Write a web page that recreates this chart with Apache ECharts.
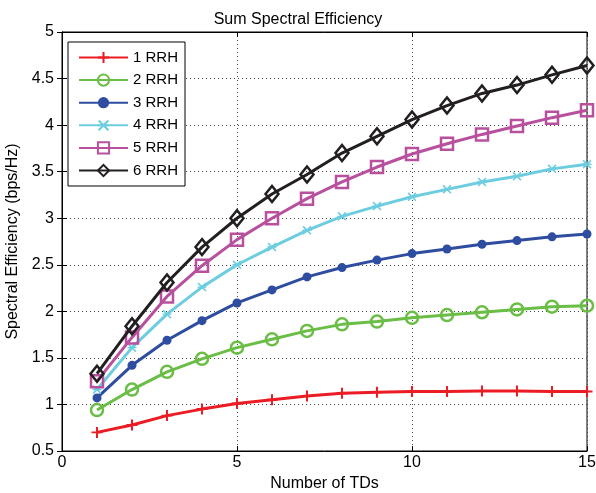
<!DOCTYPE html>
<html><head><meta charset="utf-8">
<script src="https://cdn.jsdelivr.net/npm/echarts@6/dist/echarts.min.js"></script>
<style>html,body{margin:0;padding:0;background:#fff}#c{width:596px;height:493px}</style>
</head><body><div id="c"></div>
<script>
const tds = [1,2,3,4,5,6,7,8,9,10,11,12,13,14,15];
const rrh1 = [0.70,0.78,0.88,0.95,1.01,1.05,1.09,1.12,1.13,1.14,1.14,1.145,1.145,1.14,1.14];
const rrh2 = [0.94,1.16,1.35,1.49,1.61,1.70,1.79,1.86,1.89,1.93,1.96,1.99,2.02,2.05,2.06];
const rrh3 = [1.07,1.42,1.69,1.90,2.09,2.23,2.37,2.47,2.55,2.62,2.67,2.72,2.76,2.80,2.83];
const rrh4 = [1.16,1.61,1.97,2.26,2.50,2.69,2.87,3.02,3.13,3.23,3.31,3.39,3.45,3.53,3.58];
const rrh5 = [1.25,1.72,2.16,2.49,2.77,3.00,3.21,3.39,3.55,3.69,3.80,3.90,3.99,4.08,4.16];
const rrh6 = [1.33,1.84,2.31,2.69,3.00,3.26,3.47,3.70,3.88,4.06,4.21,4.34,4.43,4.54,4.64];
const names = ['1 RRH','2 RRH','3 RRH','4 RRH','5 RRH','6 RRH'];
const yTicks = [0.5,1,1.5,2,2.5,3,3.5,4,4.5,5];
const xTicks = [0,5,10,15];

const colors = ['#ec1c24','#6abd45','#2e4da0','#6dcde0','#b8509e','#231f20'];
const plus = 'path://M0,4.1 L10,4.1 L10,5.9 L0,5.9 Z M4.1,0 L5.9,0 L5.9,10 L4.1,10 Z';
const cross = 'path://M0,1.3 L1.3,0 L5,3.7 L8.7,0 L10,1.3 L6.3,5 L10,8.7 L8.7,10 L5,6.3 L1.3,10 L0,8.7 L3.7,5 Z M0,4.2 L10,4.2 L10,5.8 L0,5.8 Z';
const sym = [plus,'circle','circle',cross,'rect','diamond'];
const symSize = [11,12,9,9,12,[13,16]];
const hollow = [false,true,false,false,true,true];
const data = [rrh1,rrh2,rrh3,rrh4,rrh5,rrh6];

const series = data.map((d,i)=>({
  name:names[i], type:'line',
  data: tds.map((x,j)=>[x,d[j]]),
  symbol: sym[i], symbolSize: symSize[i], showAllSymbol:true,
  lineStyle:{color:colors[i], width:3},
  itemStyle: hollow[i] ? {color:'rgba(255,255,255,0)', borderColor:colors[i], borderWidth:2.5} : {color:colors[i], borderWidth:0},
  emphasis:{disabled:true}, animation:false, z: 2+i
}));

const font = 'Liberation Sans, Arial, sans-serif';
const fs = 16;
const chart = echarts.init(document.getElementById('c'));
chart.setOption({
  animation:false,
  backgroundColor:'#fff',
  title:{text:'Sum Spectral Efficiency', left:'center', top:7, textStyle:{fontFamily:font,fontSize:fs,fontWeight:'normal',color:'#000'}},
  grid:{left:62, right:9, top:32, bottom:42, show:true, borderColor:'#000', borderWidth:1, containLabel:false, outerBoundsMode:'none'},
  legend:{orient:'vertical', left:68, top:42, padding:[8,7,8,10], itemGap:7.6, itemWidth:49, itemHeight:14,
    backgroundColor:'#fff', borderColor:'#000', borderWidth:1,
    textStyle:{fontFamily:font,fontSize:15,color:'#000'}, data:names, selectedMode:false},
  xAxis:[{type:'value', min:0, max:15, interval:5, name:'Number of TDs', nameLocation:'middle', nameGap:24,
    nameTextStyle:{fontFamily:font,fontSize:fs,color:'#000'},
    axisLine:{lineStyle:{color:'#000'}}, axisTick:{inside:true,length:5,lineStyle:{color:'#000'}},
    axisLabel:{fontFamily:font,fontSize:fs,color:'#000',margin:4, formatter:v=>xTicks.includes(v)?String(v):''},
    splitLine:{show:true,lineStyle:{color:'#444',type:[1,3],width:1}}},
    {type:'value', position:'top', min:0, max:15, interval:5, axisLine:{lineStyle:{color:'#000'}}, axisTick:{inside:true,length:5,lineStyle:{color:'#000'}}, axisLabel:{show:false}, splitLine:{show:false}}],
  yAxis:[{type:'value', min:0.5, max:5, interval:0.5, name:'Spectral Efficiency (bps/Hz)', nameLocation:'middle', nameGap:35,
    nameTextStyle:{fontFamily:font,fontSize:fs,color:'#000'},
    axisLine:{show:true,lineStyle:{color:'#000'}}, axisTick:{show:true,inside:true,length:5,lineStyle:{color:'#000'}},
    axisLabel:{fontFamily:font,fontSize:fs,color:'#000',margin:8, formatter:v=>String(+v.toFixed(1))},
    splitLine:{show:true,lineStyle:{color:'#444',type:[1,3],width:1}}},
    {type:'value', position:'right', min:0.5, max:5, interval:0.5, axisLine:{show:true,lineStyle:{color:'#000'}}, axisTick:{show:true,inside:true,length:5,lineStyle:{color:'#000'}}, axisLabel:{show:false}, splitLine:{show:false}}],
  series: series
});
</script></body></html>
